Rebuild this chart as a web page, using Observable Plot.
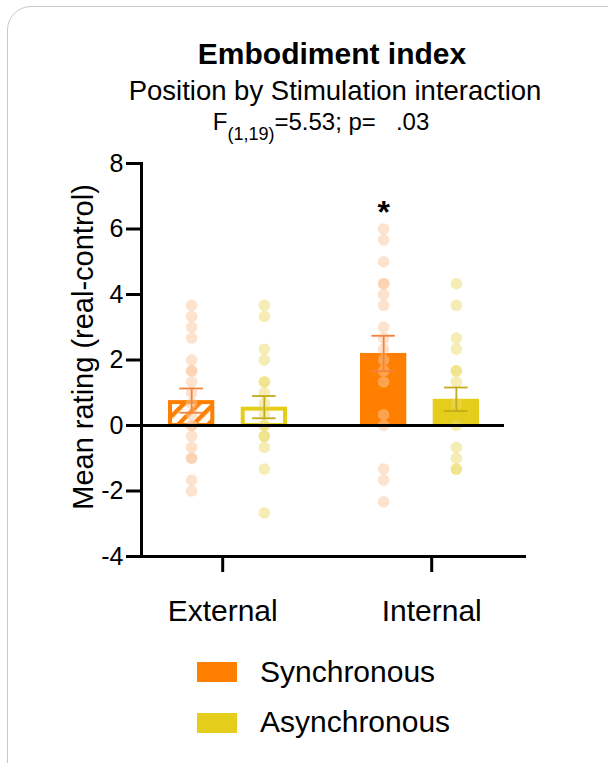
<!DOCTYPE html>
<html><head><meta charset="utf-8">
<script src="https://cdn.jsdelivr.net/npm/d3@7"></script>
<script src="https://cdn.jsdelivr.net/npm/@observablehq/plot@0.6"></script>
<style>
html,body{margin:0;padding:0;background:#fff;overflow:hidden;}
#wrap{position:relative;width:608px;height:763px;font-family:"Liberation Sans",Arial,sans-serif;color:#000;overflow:hidden;}
#frame{position:absolute;left:7px;top:6px;width:640px;height:800px;border:1.5px solid #c8c8c8;border-radius:24px;}
.t{position:absolute;white-space:nowrap;line-height:1;transform:translateX(-50%);}
.l{position:absolute;white-space:nowrap;line-height:1;}
.sw{position:absolute;width:40px;height:20px;}
sub{font-size:18px;vertical-align:-10px;line-height:0;}
#chart{position:absolute;left:0;top:0;}
</style></head><body>
<div id="wrap">
  <div id="frame"></div>
  <div id="chart"></div>
  <div class="t" id="title" style="left:332px;top:39px;font-size:30px;font-weight:bold;"></div>
  <div class="t" id="subtitle" style="left:335px;top:76.7px;font-size:27.5px;"></div>
  <div class="t" id="stat" style="left:321px;top:110px;font-size:24px;"></div>
  <div id="legend"></div>
</div>
<script>
// ---- data ----
const titleText = "Embodiment index";
const subtitleText = "Position by Stimulation interaction";
const statText = {F: "F", df: "(1,19)", rest: "=5.53; p=\u00a0\u00a0 .03"};
const yLabel = "Mean rating (real-control)";
const categories = ["External", "Internal"];
const stimulations = ["Synchronous", "Asynchronous"];
const syncMean = [0.76, 2.2];
const asyncMean = [0.56, 0.8];
const syncSEM = [0.37, 0.54];
const asyncSEM = [0.34, 0.36];
const extSyncDots = [3.67, 3.33, 3.0, 2.67, 2.0, 1.67, 1.67, 1.33, 1.0, 0.67, 0.33, 0, 0, -0.33, -0.67, -1.0, -1.0, -1.67, -2.0];
const extAsyncDots = [3.67, 3.33, 2.33, 2.0, 1.33, 1.33, 1.0, 0.67, 0.33, 0, 0, -0.33, -0.33, -0.67, -1.33, -2.67];
const intSyncDots = [6.0, 5.67, 5.0, 4.33, 4.33, 4.0, 3.67, 3.0, 2.67, 2.33, 2.0, 1.67, 1.33, 0.33, 0, -1.33, -1.67, -2.33];
const intAsyncDots = [4.33, 3.67, 2.67, 2.33, 1.67, 1.67, 1.33, 0.67, 0, -0.67, -1.0, -1.33, -1.33];
const yTicks = [-4, -2, 0, 2, 4, 6, 8];
const significance = [{category: "Internal", stim: "Synchronous", label: "*"}];

// ---- styles ----
const ORANGE = "#ff7f00", YELLOW = "#e4cd1b";
const font = '"Liberation Sans", Arial, sans-serif';

// ---- tables ----
const bars = categories.flatMap((c, i) => [
  {category: c, stim: "Synchronous", mean: syncMean[i], sem: syncSEM[i]},
  {category: c, stim: "Asynchronous", mean: asyncMean[i], sem: asyncSEM[i]}
]);
const dotSets = {
  "External|Synchronous": extSyncDots, "External|Asynchronous": extAsyncDots,
  "Internal|Synchronous": intSyncDots, "Internal|Asynchronous": intAsyncDots
};
const dots = Object.entries(dotSets).flatMap(([k, vals]) => {
  const [category, stim] = k.split("|");
  return vals.map(v => ({category, stim, value: v}));
});
significance.forEach(s => s.y = d3.max(dotSets[s.category + "|" + s.stim]));

const half = 36.35, barIn = 72.7, capA = 11.4, capB = 84.1;
const sel = (c, s) => d => d.category === c && d.stim === s;
const barStyle = {
  "External|Synchronous": {fill: "url(#hatch)", stroke: ORANGE, strokeWidth: 4},
  "External|Asynchronous": {fill: "white", stroke: YELLOW, strokeWidth: 4},
  "Internal|Synchronous": {fill: ORANGE},
  "Internal|Asynchronous": {fill: YELLOW}
};
const barMarks = bars.map(b => {
  const st = barStyle[b.category + "|" + b.stim];
  const sw = st.strokeWidth ? st.strokeWidth / 2 : 0;
  const sync = b.stim === "Synchronous";
  return Plot.barY(bars.filter(sel(b.category, b.stim)), {
    x: "category", y: "mean", ...st,
    insetLeft: (sync ? 0 : barIn) + sw, insetRight: (sync ? barIn : 0) + sw, insetTop: sw
  });
});
const dotStyle = {Synchronous: {fill: "#fbc59c", fillOpacity: 0.5}, Asynchronous: {fill: "#ecdc6a", fillOpacity: 0.5}};
const errColor = {Synchronous: "#f7823a", Asynchronous: "#c2ab1c"};
const seriesMarks = stimulations.flatMap(s => {
  const sync = s === "Synchronous";
  const dx = sync ? -half : half;
  const bs = bars.filter(d => d.stim === s);
  return [
    Plot.dot(dots.filter(d => d.stim === s), {x: "category", y: "value", dx, r: 5.8, ...dotStyle[s]}),
    Plot.ruleX(bs, {x: "category", y1: d => d.mean - d.sem, y2: d => d.mean + d.sem, dx, stroke: errColor[s], strokeWidth: 1.8}),
    Plot.tickY(bs, {x: "category", y: d => d.mean + d.sem, insetLeft: sync ? capA : capB, insetRight: sync ? capB : capA, stroke: errColor[s], strokeWidth: 1.8}),
    Plot.tickY(bs, {x: "category", y: d => d.mean - d.sem, insetLeft: sync ? capA : capB, insetRight: sync ? capB : capA, stroke: errColor[s], strokeWidth: 1.8})
  ];
});

const plot = Plot.plot({
  width: 608, height: 763,
  marginTop: 163, marginBottom: 207, marginLeft: 141, marginRight: 82,
  style: {fontFamily: font, background: "transparent", overflow: "visible", color: "#000"},
  x: {domain: categories, paddingInner: 0.38, paddingOuter: 0.189, align: 0.361},
  y: {domain: [-4, 8]},
  marks: [
    ...barMarks,
    ...seriesMarks,
    Plot.ruleY([0], {strokeWidth: 3, insetRight: 22}),
    Plot.ruleY([-4], {strokeWidth: 3}),
    Plot.frame({anchor: "left", strokeWidth: 3}),
    Plot.axisY({ticks: yTicks, tickSize: 15, tickPadding: 3, fontSize: 25, strokeWidth: 3, tickFormat: d => String(d), label: null}),
    Plot.axisX({ticks: ["External"], dx: -5.3, tickSize: 16, tickPadding: 27, fontSize: 30, strokeWidth: 3, label: null}),
    Plot.axisX({ticks: ["Internal"], dx: 11.7, tickSize: 16, tickPadding: 27, fontSize: 30, strokeWidth: 3, label: null}),
    Plot.text(significance, {x: "category", y: "y", text: "label", dx: -half, dy: -16, fontSize: 32, fontWeight: "bold"}),
    Plot.text([yLabel], {frameAnchor: "left", textAnchor: "middle", rotate: -90, dx: -58, dy: -13, fontSize: 29})
  ]
});

const svg = d3.select(plot);
const defs = svg.insert("defs", ":first-child");
const pat = defs.append("pattern").attr("id", "hatch").attr("patternUnits", "userSpaceOnUse")
  .attr("width", 10.6).attr("height", 10.6).attr("patternTransform", "rotate(45)");
pat.append("rect").attr("width", 10.6).attr("height", 10.6).attr("fill", "white");
pat.append("rect").attr("width", 4.4).attr("height", 10.6).attr("fill", ORANGE);
document.getElementById("chart").appendChild(plot);

document.getElementById("title").textContent = titleText;
document.getElementById("subtitle").textContent = subtitleText;
const st = document.getElementById("stat");
st.append(statText.F);
const sb = document.createElement("sub"); sb.textContent = statText.df; st.append(sb);
st.append(statText.rest);

const legendColors = {Synchronous: ORANGE, Asynchronous: YELLOW};
const lg = document.getElementById("legend");
stimulations.forEach((s, i) => {
  const sw = document.createElement("div");
  sw.className = "sw";
  sw.style.left = "197px"; sw.style.top = (662 + i * 51) + "px"; sw.style.background = legendColors[s];
  lg.appendChild(sw);
  const tx = document.createElement("div");
  tx.className = "l";
  tx.style.left = "260px"; tx.style.top = (656.6 + i * 50) + "px"; tx.style.fontSize = "30px";
  tx.textContent = s;
  lg.appendChild(tx);
});
</script>
</body></html>
